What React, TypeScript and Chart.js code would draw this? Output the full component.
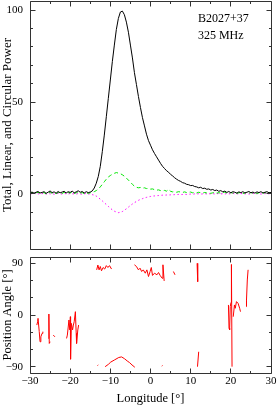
import React, { useEffect, useRef } from "react";
import { Chart, registerables } from "chart.js";

Chart.register(...registerables);

// ---------- DATA ----------
const longitude = [
  -30, -29.5, -29, -28.5, -28, -27.5, -27, -26.5, -26, -25.5,
  -25, -24.5, -24, -23.5, -23, -22.5, -22, -21.5, -21, -20.5,
  -20, -19.5, -19, -18.5, -18, -17.5, -17, -16.5, -16, -15.5,
  -15, -14.5, -14, -13.5, -13, -12.5, -12, -11.5, -11, -10.5,
  -10, -9.5, -9, -8.5, -8, -7.5, -7, -6.5, -6, -5.5,
  -5, -4.5, -4, -3.5, -3, -2.5, -2, -1.5, -1, -0.5,
  0, 0.5, 1, 1.5, 2, 2.5, 3, 3.5, 4, 4.5,
  5, 5.5, 6, 6.5, 7, 7.5, 8, 8.5, 9, 9.5,
  10, 10.5, 11, 11.5, 12, 12.5, 13, 13.5, 14, 14.5,
  15, 15.5, 16, 16.5, 17, 17.5, 18, 18.5, 19, 19.5,
  20, 20.5, 21, 21.5, 22, 22.5, 23, 23.5, 24, 24.5,
  25, 25.5, 26, 26.5, 27, 27.5, 28, 28.5, 29, 29.5,
  30,
];

const totalPower = [
  0.6, 1.0, 0.4, 0.9, 1.3, 0.5, 0.8, 1.2, 0.3, 0.9,
  1.6, 0.7, 1.1, 0.4, 1.3, 0.6, 1.0, 1.4, 0.5, 1.2,
  0.8, 1.5, 0.6, 1.1, 1.7, 0.9, 1.3, 0.5, 1.2, 0.7,
  1.0, 1.6, 3.2, 5.8, 9.5, 15, 23, 32, 42, 52,
  62, 72, 81, 89.5, 95.5, 99, 99.5, 97.5, 93.5, 88,
  81, 74, 66, 59.5, 53, 47, 41.5, 37, 32.5, 29,
  26.5, 24, 22, 20.2, 18.4, 16.6, 15, 13.8, 12.6, 11.8,
  10.6, 9.8, 8.8, 8.0, 7.3, 6.8, 6.1, 5.8, 5.2, 5.0,
  4.5, 4.6, 4.0, 3.8, 3.3, 3.6, 2.9, 3.1, 2.5, 2.7,
  2.1, 2.4, 1.8, 2.1, 1.4, 1.8, 1.1, 1.5, 0.8, 1.3,
  0.6, 1.2, 0.9, 0.4, 1.1, 0.7, 1.2, 0.5, 0.9, 1.3,
  0.6, 1.0, 0.4, 1.1, 0.7, 1.2, 0.5, 0.9, 1.2, 0.6,
  0.8,
];

const linearPower = [
  0.3, 0.8, 0.1, 0.6, 0.9, 0.2, 0.5, 0.7, 0.0, 0.4,
  1.0, 0.3, 0.6, 0.1, 0.8, 0.4, 0.2, 0.9, 0.3, 0.7,
  0.5, 1.0, 0.2, 0.6, 1.1, 0.4, 0.7, 0.1, 0.5, 0.3,
  0.6, 0.9, 1.2, 1.8, 2.6, 3.8, 5.2, 6.6, 8.0, 9.2,
  10.0, 10.7, 11.2, 11.6, 11.3, 11.0, 10.4, 9.6, 8.6, 7.5,
  6.4, 5.2, 4.2, 3.6, 3.3, 3.5, 3.1, 3.3, 2.9, 3.0,
  2.6, 2.7, 2.3, 2.0, 2.2, 1.8, 1.6, 1.9, 1.5, 2.4,
  1.4, 1.1, 1.3, 0.9, 1.2, 1.0, 0.8, 1.1, 0.7, 0.9,
  1.0, 0.6, 0.8, 0.5, 0.9, 0.6, 0.4, 0.8, 0.5, 0.7,
  0.3, 0.6, 0.9, 0.4, 0.7, 0.3, 0.6, 1.0, 0.5, 0.2,
  0.7, 0.4, 0.9, 0.3, 0.6, 0.8, 0.2, 0.5, 0.9, 0.3,
  0.7, 0.4, 0.8, 0.2, 0.6, 0.9, 0.4, 0.7, 0.3, 0.6,
  0.5,
];

const circularPower = [
  0.2, -0.1, 0.3, 0.0, 0.1, -0.2, 0.2, 0.1, -0.1, 0.3,
  0.0, 0.2, -0.2, 0.1, 0.3, -0.1, 0.0, 0.2, 0.1, -0.2,
  0.3, 0.0, 0.1, -0.1, 0.2, 0.0, -0.2, 0.1, 0.2, -0.1,
  0.0, -0.4, -0.7, -1.2, -2.0, -2.9, -3.8, -4.8, -5.8, -6.8,
  -7.8, -8.7, -9.4, -9.9, -10.2, -10.0, -9.6, -8.9, -8.1, -7.2,
  -6.3, -5.5, -4.8, -4.1, -3.5, -3.0, -2.6, -2.2, -1.9, -1.6,
  -1.4, -1.2, -1.1, -1.0, -0.9, -0.8, -0.7, -0.7, -0.6, -0.6,
  -0.5, -0.5, -0.4, -0.4, -0.3, -0.4, -0.3, -0.2, -0.3, -0.2,
  -0.1, -0.2, 0.0, -0.1, 0.1, -0.1, 0.0, 0.2, -0.1, 0.1,
  0.0, 0.2, -0.1, 0.1, 0.2, 0.0, 0.1, -0.1, 0.2, 0.0,
  0.1, 0.3, 0.0, 0.1, -0.1, 0.2, 0.1, 0.0, 0.2, -0.1,
  0.1, 0.3, 0.0, 0.1, 0.2, -0.1, 0.1, 0.2, 0.0, 0.1,
  0.2,
];

// position angle: null entries break the trace
const paLongitude = [
  -28.3, -28.1, -28.0, -27.7, -27.5, -27.3, -27.0, -26.8, -26.8,
  -25.4, -25.3, -25.2, -25.0, -25.0,
  -24.2, -23.8, -23.8,
  -20.9, -20.7, -20.3, -20.1, -19.95, -19.9, -19.7, -19.4, -19.2, -19.0, -18.7, -18.5, -18.4, -18.1, -17.9, -17.9,
  -13.4, -13.1, -12.8, -12.5, -12.2, -11.8, -11.4, -11.0, -10.6, -10.2, -9.7, -9.7,
  -13.2, -13.0, -13.0,
  -11.3, -10.5, -9.9, -8.9, -7.9, -7.2, -6.5, -5.8, -5.2, -4.6, -3.9, -3.9,
  -4.0, -3.5, -3.0, -2.6, -2.2, -1.8, -1.3, -0.9, -0.5, -0.1, 0.2, 0.5, 1.0, 1.6, 2.0, 2.4, 2.9, 3.1, 3.4, 3.4,
  2.8, 3.0, 3.0,
  5.7, 6.1, 6.1,
  11.6, 11.75, 11.75,
  11.7, 12.0, 12.0,
  19.4, 19.55, 19.7, 19.85, 20.05, 20.15, 20.3, 20.3,
  20.6, 20.9, 21.1, 21.4, 21.8, 22.2, 22.4, 22.4,
  23.8, 23.9, 24.1, 24.3,
];

const paAngle = [
  -17.5, -11.7, -5.8, -29, -46.6, -38, -32, -29, null,
  -40.8, 1.7, -49.5, -46.6, null,
  -35, -38, null,
  -40.8, -35, -8.7, -26, -3, -77, -14.6, -26, -17.5, -11.7, 5.8, -32, -49.5, -26, -17.5, null,
  78.6, 87, 78.6, 84.5, 77, 82.7, 80, 86, 82.7, 86, 80, null,
  -88, -87, null,
  -90, -86, -82, -78, -74, -73, -76, -80, -83, -87, -91, null,
  87.4, 84.5, 78.6, 81.5, 75.7, 78.6, 72.8, 78.6, 67, 75.7, 82.7, 68.9, 72.8, 70, 74, 68.9, 64, 87.4, 59.3, null,
  -89, -88, null,
  75.7, 70, null,
  90, 58, null,
  -90, -64, null,
  17.5, -23, -26, 14.6, 22, 88, -90, null,
  -3, 17.5, 11.7, 23.3, 20.4, 11.7, 5.8, null,
  14.6, 26, 61, 78.7,
];

const lonMajorTicks = [-30, -20, -10, 0, 10, 20, 30];
const lonMinorTicks = [-25, -15, -5, 5, 15, 25];
const powerMajorTicks = [0, 50, 100];
const powerMinorTicks = [-20, -10, 10, 20, 30, 40, 60, 70, 80, 90];
const paMajorTicks = [-90, 0, 90];
const paMinorTicks = [-60, -30, 30, 60];

const sourceName = "B2027+37";
const frequencyLabel = "325 MHz";

// ---------- STYLE ----------
const SERIF = "'Liberation Serif', 'Times New Roman', serif";
const fmt = (v: number) => (v < 0 ? "\u2212" + Math.abs(v) : String(v));

function framePlugin(xMajor: number[], xMinor: number[], yMajor: number[], yMinor: number[]) {
  return {
    id: "pgframe",
    afterDatasetsDraw(chart: any) {
      const { ctx, chartArea, scales } = chart;
      const L = Math.floor(chartArea.left) + 0.5;
      const R = Math.floor(chartArea.right) + 0.5;
      const T = Math.floor(chartArea.top) + 0.5;
      const B = Math.floor(chartArea.bottom) + 0.5;
      ctx.save();
      ctx.strokeStyle = "#333";
      ctx.lineWidth = 1;
      ctx.beginPath();
      ctx.rect(L, T, R - L, B - T);
      const xt = (vals: number[], len: number) => {
        vals.forEach((v) => {
          const px = Math.floor(scales.x.getPixelForValue(v)) + 0.5;
          ctx.moveTo(px, B);
          ctx.lineTo(px, B - len);
          ctx.moveTo(px, T);
          ctx.lineTo(px, T + len);
        });
      };
      const yt = (vals: number[], len: number) => {
        vals.forEach((v) => {
          const py = Math.floor(scales.y.getPixelForValue(v)) + 0.5;
          ctx.moveTo(L, py);
          ctx.lineTo(L + len, py);
          ctx.moveTo(R, py);
          ctx.lineTo(R - len, py);
        });
      };
      xt(xMajor, 5);
      xt(xMinor, 2.5);
      yt(yMajor, 5);
      yt(yMinor, 2.5);
      ctx.stroke();
      ctx.restore();
    },
  };
}

const labelPlugin = {
  id: "pglabels",
  afterDraw(chart: any) {
    const { ctx, scales } = chart;
    ctx.save();
    ctx.fillStyle = "#000";
    ctx.font = `12px ${SERIF}`;
    ctx.textBaseline = "middle";
    ctx.textAlign = "left";
    const x0 = scales.x.getPixelForValue(11.8);
    ctx.fillText(sourceName, x0, 19);
    ctx.fillText(frequencyLabel, x0, 35.5);
    ctx.restore();
  },
};

const noPad = (s: any) => {
  s.paddingTop = 0;
  s.paddingBottom = 0;
  s.paddingLeft = 0;
  s.paddingRight = 0;
};

export default function App() {
  const topRef = useRef<HTMLCanvasElement>(null);
  const botRef = useRef<HTMLCanvasElement>(null);

  useEffect(() => {
    const toXY = (ys: (number | null)[], xs: number[]) => xs.map((x, i) => ({ x, y: ys[i] }));

    const topChart = new Chart(topRef.current as HTMLCanvasElement, {
      type: "line",
      data: {
        datasets: [
          {
            data: toXY(totalPower, longitude) as any,
            borderColor: "#000",
            borderWidth: 1,
            pointRadius: 0,
            tension: 0,
          },
          {
            data: toXY(linearPower, longitude) as any,
            borderColor: "rgb(0,230,0)",
            borderWidth: 1,
            borderDash: [4, 3],
            pointRadius: 0,
            tension: 0,
          },
          {
            data: toXY(circularPower, longitude) as any,
            borderColor: "rgb(255,0,255)",
            borderWidth: 1,
            borderDash: [1.5, 2.5],
            pointRadius: 0,
            tension: 0,
          },
        ],
      },
      options: {
        animation: false,
        responsive: false,
        maintainAspectRatio: false,
        layout: { padding: { top: 1, right: 7, bottom: 3, left: 0 } },
        plugins: { legend: { display: false }, tooltip: { enabled: false } },
        scales: {
          x: { type: "linear", min: -30, max: 30, display: false },
          y: {
            type: "linear",
            min: -30,
            max: 105,
            grid: { display: false, drawTicks: false },
            border: { display: false },
            afterBuildTicks: (s: any) => {
              s.ticks = powerMajorTicks.map((v) => ({ value: v }));
            },
            afterFit: (s: any) => {
              s.width = 30;
              noPad(s);
            },
            ticks: {
              padding: 7,
              color: "#000",
              font: { family: SERIF, size: 11 },
              callback: (v: any) => fmt(Number(v)),
            },
            title: {
              display: true,
              text: "Total, Linear, and Circular Power",
              color: "#000",
              font: { family: SERIF, size: 13 },
              padding: 0,
            },
          },
        },
      },
      plugins: [framePlugin(lonMajorTicks, lonMinorTicks, powerMajorTicks, powerMinorTicks), labelPlugin],
    });

    const botChart = new Chart(botRef.current as HTMLCanvasElement, {
      type: "line",
      data: {
        datasets: [
          {
            data: toXY(paAngle, paLongitude) as any,
            borderColor: "rgb(255,0,0)",
            borderWidth: 1,
            pointRadius: 0,
            tension: 0,
            spanGaps: false,
          },
        ],
      },
      options: {
        animation: false,
        responsive: false,
        maintainAspectRatio: false,
        layout: { padding: { top: 5, right: 7, bottom: 0, left: 0 } },
        plugins: { legend: { display: false }, tooltip: { enabled: false } },
        scales: {
          x: {
            type: "linear",
            min: -30,
            max: 30,
            grid: { display: false, drawTicks: false },
            border: { display: false },
            afterBuildTicks: (s: any) => {
              s.ticks = lonMajorTicks.map((v) => ({ value: v }));
            },
            afterFit: (s: any) => {
              s.height = 34;
              noPad(s);
            },
            ticks: {
              padding: 2,
              color: "#000",
              maxRotation: 0,
              autoSkip: false,
              font: { family: SERIF, size: 11 },
              callback: (v: any) => fmt(Number(v)),
            },
            title: {
              display: true,
              text: "Longitude [°]",
              color: "#000",
              font: { family: SERIF, size: 12.5 },
              padding: { top: 0, bottom: 0.5 },
            },
          },
          y: {
            type: "linear",
            min: -101,
            max: 101,
            grid: { display: false, drawTicks: false },
            border: { display: false },
            afterBuildTicks: (s: any) => {
              s.ticks = paMajorTicks.map((v) => ({ value: v }));
            },
            afterFit: (s: any) => {
              s.width = 30;
              noPad(s);
            },
            ticks: {
              padding: 7,
              color: "#000",
              font: { family: SERIF, size: 11 },
              callback: (v: any) => fmt(Number(v)),
            },
            title: {
              display: true,
              text: "Position Angle [°]",
              color: "#000",
              font: { family: SERIF, size: 12.5 },
              padding: 0,
            },
          },
        },
      },
      plugins: [framePlugin(lonMajorTicks, lonMinorTicks, paMajorTicks, paMinorTicks)],
    });

    return () => {
      topChart.destroy();
      botChart.destroy();
    };
  }, []);

  return (
    <div style={{ position: "absolute", left: 0, top: 0, width: 278, height: 407, background: "#fff" }}>
      <canvas
        ref={topRef}
        width={278}
        height={252}
        style={{ position: "absolute", left: 0, top: 0, width: 278, height: 252 }}
      />
      <canvas
        ref={botRef}
        width={278}
        height={155}
        style={{ position: "absolute", left: 0, top: 252, width: 278, height: 155 }}
      />
    </div>
  );
}
